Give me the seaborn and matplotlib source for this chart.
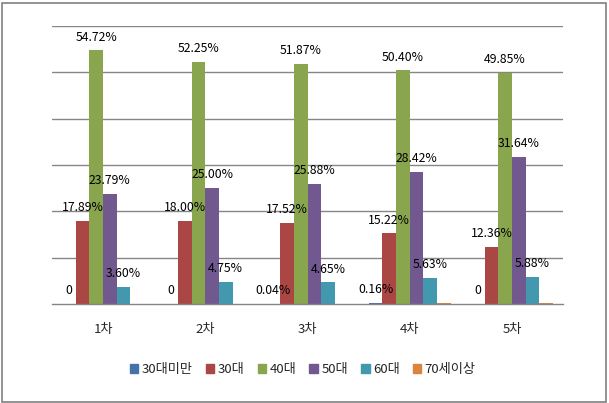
import matplotlib
matplotlib.use("Agg")
import matplotlib.pyplot as plt
import matplotlib.patches as mpatches
import seaborn as sns
import pandas as pd
import numpy as np

categories = ["1차", "2차", "3차", "4차", "5차"]
series_names = ["30대미만", "30대", "40대", "50대", "60대", "70세이상"]
v_under30 = [0, 0, 0.04, 0.16, 0]
v_30s = [17.89, 18.00, 17.52, 15.22, 12.36]
v_40s = [54.72, 52.25, 51.87, 50.40, 49.85]
v_50s = [23.79, 25.00, 25.88, 28.42, 31.64]
v_60s = [3.60, 4.75, 4.65, 5.63, 5.88]
v_70plus = [0, 0, 0, 0.17, 0.27]
series_values = [v_under30, v_30s, v_40s, v_50s, v_60s, v_70plus]
show_labels = [True, True, True, True, True, False]
colors = ["#4572A7", "#AA4643", "#89A54E", "#71588F", "#4198AF", "#DB843D"]

rows = []
for name, vals in zip(series_names, series_values):
    for c, v in zip(categories, vals):
        rows.append({"차수": c, "연령": name, "값": v})
df = pd.DataFrame(rows)

sns.set_style("white")
plt.rcParams["font.family"] = ["Noto Sans CJK KR", "DejaVu Sans"]

fig = plt.figure(figsize=(6.09, 4.03), dpi=100)
ax = fig.add_axes([52 / 609, 99 / 403, (563 - 52) / 609, (304 - 26) / 403])

sns.barplot(data=df, x="차수", y="값", hue="연령", order=categories,
            hue_order=series_names, palette=colors, width=0.8,
            saturation=1, ax=ax, legend=False, linewidth=0, errorbar=None)

ax.set_ylim(0, 60)
ax.set_xlim(-0.5, len(categories) - 0.5)
ax.set_yticks(np.arange(10, 61, 10))
ax.yaxis.grid(True, color="#868686", linewidth=1)
ax.set_axisbelow(True)
ax.tick_params(axis="y", left=False, labelleft=False)
for s in ["left", "right", "top"]:
    ax.spines[s].set_visible(False)
ax.spines["bottom"].set_color("#868686")
ax.spines["bottom"].set_linewidth(1)
ax.set_xlabel("")
ax.set_ylabel("")

ax.set_xticks(range(len(categories)))
ax.set_xticklabels(categories, fontsize=9.5)
ax.tick_params(axis="x", which="major", length=0, pad=14)
ax.set_xticks(np.arange(-0.5, len(categories), 1), minor=True)
ax.tick_params(axis="x", which="minor", length=4, color="#868686", width=1)

for cont, show, vals in zip(ax.containers, show_labels, series_values):
    if not show:
        continue
    labels = ["0" if v == 0 else f"{v:.2f}%" for v in vals]
    ax.bar_label(cont, labels=labels, padding=5, fontsize=8.8, color="black")

handles = [mpatches.Patch(color=c, label=n) for c, n in zip(colors, series_names)]
fig.legend(handles=handles, loc="center", bbox_to_anchor=(0.497, 0.082),
           ncol=6, frameon=False, fontsize=9.5, handlelength=0.65,
           handleheight=0.65, handletextpad=0.25, columnspacing=1.0)

fig.add_artist(mpatches.Rectangle((1.5 / 609, 1.5 / 403), 604.5 / 609, 399 / 403,
                                  transform=fig.transFigure, fill=False,
                                  edgecolor="#808080", linewidth=1.2))

fig.savefig("out.png", dpi=100)
